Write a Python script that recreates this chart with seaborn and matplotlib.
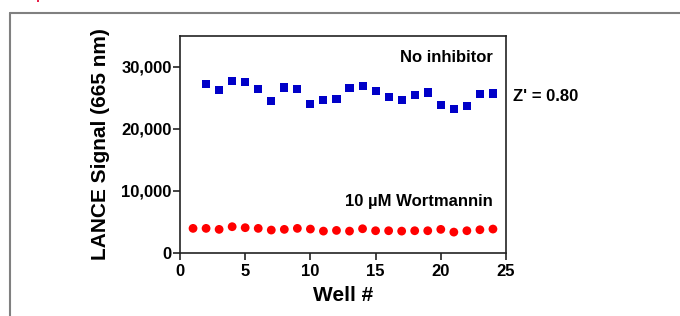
import pandas as pd
import matplotlib
matplotlib.use("Agg")
import matplotlib.pyplot as plt
import seaborn as sns
from matplotlib.lines import Line2D
from matplotlib.patches import Rectangle
from matplotlib.ticker import FuncFormatter

# данные
wells_no_inh = list(range(2, 25))
signal_no_inh = [27190, 26260, 27780, 27620, 26380, 24470, 26700, 26380, 23980,
                 24740, 24800, 26640, 26970, 26100, 25120, 24630, 25500, 25880,
                 23930, 23280, 23710, 25610, 25720]
wells_wort = list(range(1, 25))
signal_wort = [3970, 3970, 3810, 4240, 4080, 3970, 3700, 3810, 3970, 3860, 3530,
               3640, 3530, 3910, 3590, 3590, 3530, 3590, 3590, 3810, 3370, 3590,
               3750, 3860]
xticks = [0, 5, 10, 15, 20, 25]
yticks = [0, 10000, 20000, 30000]

df_no = pd.DataFrame({"Well": wells_no_inh, "Signal": signal_no_inh})
df_wo = pd.DataFrame({"Well": wells_wort, "Signal": signal_wort})

sns.set_style("ticks")
plt.rcParams["font.family"] = ["Liberation Sans", "DejaVu Sans"]
plt.rcParams["font.weight"] = "bold"
plt.rcParams["text.color"] = "black"
plt.rcParams["axes.labelcolor"] = "black"
plt.rcParams["xtick.color"] = "black"
plt.rcParams["ytick.color"] = "black"

fig = plt.figure(figsize=(6.8, 3.16), dpi=100)
ax = fig.add_axes([0.2647, 0.1994, 0.4794, 0.6867])

sns.scatterplot(data=df_no, x="Well", y="Signal", marker="s", s=34,
                color="#0000C8", edgecolor="none", ax=ax)
sns.scatterplot(data=df_wo, x="Well", y="Signal", marker="o", s=40,
                color="#FF0000", edgecolor="none", ax=ax)

ax.set_xlim(0, 25)
ax.set_ylim(0, 35000)
ax.set_xticks(xticks)
ax.set_yticks(yticks)
ax.yaxis.set_major_formatter(FuncFormatter(lambda v, p: f"{int(v):,}"))
ax.tick_params(labelsize=12, length=5, width=1.2, color="#222222",
               labelcolor="black", pad=1)
ax.tick_params(axis="x", pad=3)
for lbl in ax.get_xticklabels() + ax.get_yticklabels():
    lbl.set_fontweight("bold")
for sp in ax.spines.values():
    sp.set_color("#222222")
    sp.set_linewidth(1.2)

ax.set_xlabel("Well #", fontsize=15, fontweight="bold", labelpad=5, color="black")
ax.set_ylabel("LANCE Signal (665 nm)", fontsize=15, fontweight="bold",
              labelpad=8, color="black")

ax.text(0.96, 0.90, "No inhibitor", transform=ax.transAxes, ha="right",
        va="center", fontsize=12, fontweight="bold", color="black")
ax.text(0.96, 0.236, "10 µM Wortmannin", transform=ax.transAxes, ha="right",
        va="center", fontsize=12, fontweight="bold", color="black")
ax.text(1.021, 0.719, "Z' = 0.80", transform=ax.transAxes, ha="left",
        va="center", fontsize=12, fontweight="bold", color="black", clip_on=False)

# серая рамка вокруг и маленькая красная метка сверху
fig.add_artist(Line2D([0.0145, 0.0145], [0.0, 0.959], color="#808080", lw=1.5))
fig.add_artist(Line2D([0.0145, 1.0], [0.959, 0.959], color="#808080", lw=1.5))
fig.add_artist(Rectangle((0.054, 0.993), 0.004, 0.007, color="#E8204A", lw=0))

fig.savefig("out.png", dpi=100)
